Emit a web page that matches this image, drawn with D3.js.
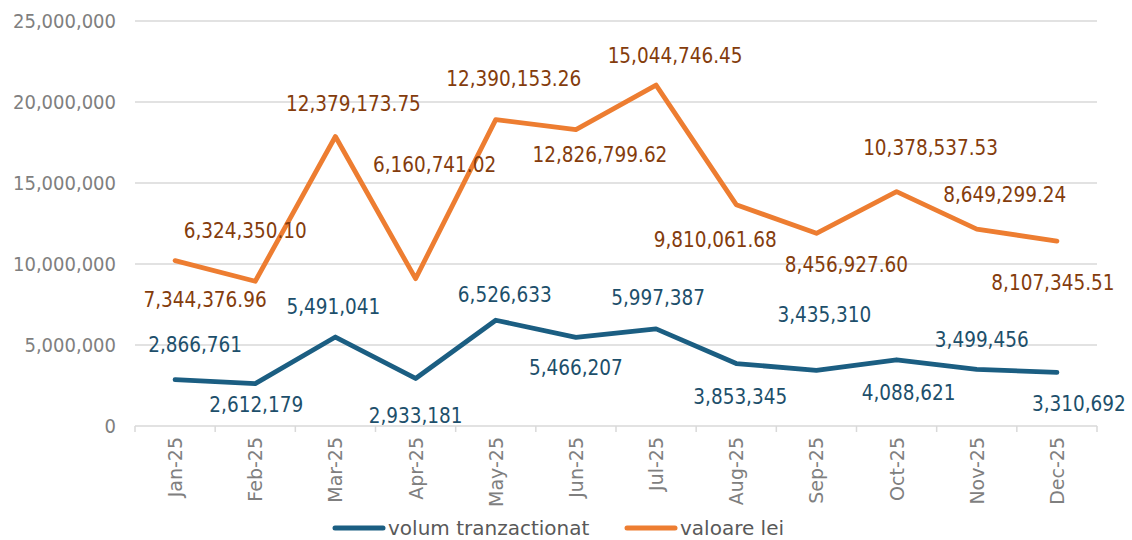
<!DOCTYPE html>
<html>
<head>
<meta charset="utf-8">
<script src="https://cdn.jsdelivr.net/npm/d3@7"></script>
<style>
  body { margin: 0; background: #fff; }
  svg { display: block; font-family: "DejaVu Sans Condensed", "DejaVu Sans", sans-serif; }
  .wide { font-family: "DejaVu Sans", sans-serif; }
</style>
</head>
<body>
<div id="chart"></div>
<script>
// data
const months = ['Jan-25', 'Feb-25', 'Mar-25', 'Apr-25', 'May-25', 'Jun-25',
  'Jul-25', 'Aug-25', 'Sep-25', 'Oct-25', 'Nov-25', 'Dec-25'];
const volum = [2866761, 2612179, 5491041, 2933181, 6526633, 5466207,
  5997387, 3853345, 3435310, 4088621, 3499456, 3310692];
const valoare = [7344376.96, 6324350.10, 12379173.75, 6160741.02, 12390153.26, 12826799.62,
  15044746.45, 9810061.68, 8456927.60, 10378537.53, 8649299.24, 8107345.51];
const yTicks = [0, 5000000, 10000000, 15000000, 20000000, 25000000];
const seriesNames = ['volum tranzactionat', 'valoare lei'];

// manual label placement (px offsets from the point), as in the original
const volDx = [20, 1, -2, 0, 9, 0, 2, 4, 8, 12, 5, 22];
const volDy = [-35, 21, -30, 38, -25, 31, -31, 33, -55, 33, -29, 32];
const valDx = [30, -10, 18, 19, 18, 24, 19, -21, 30, 34, 28, -4];
const valDy = [39, -50, -33, -114, -41, 25, -29, 35, 32, -44, -34, 42];

const width = 1132, height = 540;
const margin = { top: 21, right: 35, bottom: 114, left: 135 };
const colors = ['#1b5e82', '#ed7d31'];
const labelColors = ['#1d4f6b', '#843c0c'];

const svg = d3.select('#chart').append('svg')
  .attr('width', width)
  .attr('height', height);

const x = d3.scaleBand()
  .domain(months)
  .range([margin.left, width - margin.right]);

const y = d3.scaleLinear()
  .domain([0, 25000000])
  .range([height - margin.bottom, margin.top]);

// stacked lines (valoare sits on top of volum)
const rows = months.map((m, i) => ({ month: m, volum: volum[i], valoare: valoare[i] }));
const stacked = d3.stack().keys(['volum', 'valoare'])(rows);

// gridlines
svg.append('g')
  .selectAll('line')
  .data(yTicks.slice(1))
  .join('line')
  .attr('x1', margin.left)
  .attr('x2', width - margin.right)
  .attr('y1', d => y(d))
  .attr('y2', d => y(d))
  .attr('stroke', '#d9d9d9')
  .attr('stroke-width', 1.5);

// y labels
svg.append('g')
  .selectAll('text')
  .data(yTicks)
  .join('text')
  .attr('x', margin.left - 19)
  .attr('y', d => y(d))
  .attr('text-anchor', 'end')
  .attr('dominant-baseline', 'central')
  .attr('fill', '#7f7f7f')
  .attr('font-size', 20)
  .text(d => d3.format(',')(d));

// x axis line + boundary ticks
const xAxis = svg.append('g');
xAxis.append('line')
  .attr('x1', margin.left)
  .attr('x2', width - margin.right)
  .attr('y1', y(0))
  .attr('y2', y(0))
  .attr('stroke', '#d9d9d9')
  .attr('stroke-width', 1.5);
xAxis.selectAll('.tick')
  .data(months.map(m => x(m)).concat([x.range()[1]]))
  .join('line')
  .attr('class', 'tick')
  .attr('x1', d => d)
  .attr('x2', d => d)
  .attr('y1', y(0))
  .attr('y2', y(0) + 6)
  .attr('stroke', '#d9d9d9')
  .attr('stroke-width', 1.5);
xAxis.selectAll('.xlab')
  .data(months)
  .join('text')
  .attr('class', 'xlab wide')
  .attr('transform', d => `translate(${x(d) + x.bandwidth() / 2},${y(0) + 11}) rotate(-90)`)
  .attr('text-anchor', 'end')
  .attr('dominant-baseline', 'central')
  .attr('fill', '#7f7f7f')
  .attr('font-size', 19)
  .text(d => d);

const cx = d => x(d.data.month) + x.bandwidth() / 2;
const line = d3.line()
  .x(cx)
  .y(d => y(d[1]));

stacked.forEach((s, k) => {
  svg.append('path')
    .datum(s)
    .attr('fill', 'none')
    .attr('stroke', colors[k])
    .attr('stroke-width', 4.8)
    .attr('stroke-linejoin', 'round')
    .attr('stroke-linecap', 'round')
    .attr('d', line);
});

// data labels
const labelSets = [
  { s: stacked[0], vals: volum, dx: volDx, dy: volDy, fmt: d3.format(',') },
  { s: stacked[1], vals: valoare, dx: valDx, dy: valDy, fmt: d3.format(',.2f') }
];
labelSets.forEach((ls, k) => {
  svg.append('g')
    .selectAll('text')
    .data(ls.s)
    .join('text')
    .attr('x', (d, i) => cx(d) + ls.dx[i])
    .attr('y', (d, i) => y(d[1]) + ls.dy[i])
    .attr('text-anchor', 'middle')
    .attr('dominant-baseline', 'central')
    .attr('fill', labelColors[k])
    .attr('font-size', 20.5)
    .text((d, i) => ls.fmt(ls.vals[i]));
});

// legend
const legendY = 528;
const legendX = [333, 625];
seriesNames.forEach((name, k) => {
  const g = svg.append('g').attr('transform', `translate(${legendX[k]},${legendY})`);
  g.append('line')
    .attr('x1', 2).attr('x2', 50)
    .attr('stroke', colors[k])
    .attr('stroke-width', 5)
    .attr('stroke-linecap', 'round');
  g.append('text')
    .attr('class', 'wide')
    .attr('x', 55)
    .attr('dominant-baseline', 'central')
    .attr('fill', '#595959')
    .attr('font-size', 20)
    .text(name);
});
</script>
</body>
</html>
